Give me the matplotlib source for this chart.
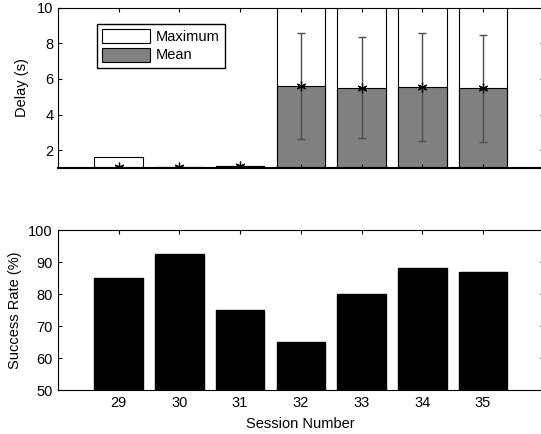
import matplotlib
matplotlib.use("Agg")
import matplotlib.pyplot as plt

plt.rcParams['font.family'] = ['Liberation Sans', 'DejaVu Sans']
plt.rcParams['font.size'] = 10.5

sessions = [29, 30, 31, 32, 33, 34, 35]
delay_max = [1.6, 1.05, 1.1, 12.0, 11.5, 12.5, 11.8]
delay_mean = [1.05, 1.05, 1.1, 5.6, 5.47, 5.53, 5.47]
delay_low = [1.0, 1.0, 1.05, 2.6, 2.66, 2.53, 2.47]
delay_high = [1.1, 1.1, 1.15, 8.6, 8.35, 8.6, 8.46]
success = [85, 92.5, 75, 65, 80, 88, 87]

fig = plt.figure(figsize=(5.41, 4.34), dpi=100)

# top panel: delay
ax1 = fig.add_axes([0.107, 0.613, 0.898, 0.369])
ax1.bar(sessions, delay_max, width=0.8, color='white', edgecolor='black',
        linewidth=0.8, label='Maximum')
ax1.bar(sessions, delay_mean, width=0.8, color='0.5', edgecolor='black',
        linewidth=0.8, label='Mean')
err_lo = [m - l for m, l in zip(delay_mean, delay_low)]
err_hi = [h - m for m, h in zip(delay_mean, delay_high)]
ax1.errorbar(sessions, delay_mean, yerr=[err_lo, err_hi], fmt='none',
             ecolor='0.3', elinewidth=1, capsize=3)
ax1.plot(sessions, delay_mean, linestyle='none', marker=(6, 2, 0),
         color='black', markersize=7, markeredgewidth=0.9)
ax1.set_xlim(28, 36)
ax1.set_ylim(1, 10)
ax1.set_yticks([2, 4, 6, 8, 10])
ax1.set_xticks(sessions)
ax1.set_xticklabels([])
ax1.set_ylabel('Delay (s)', labelpad=6)
ax1.tick_params(direction='in', top=True, right=True, length=3, pad=3)
ax1.spines['bottom'].set_linewidth(1.5)
handles, labels = ax1.get_legend_handles_labels()
ax1.legend(handles[:2], labels[:2], loc='upper left',
           bbox_to_anchor=(0.08, 0.9), borderaxespad=0, fancybox=False,
           edgecolor='black', framealpha=1, handlelength=3.3,
           handleheight=1.1, borderpad=0.35, labelspacing=0.25,
           handletextpad=0.4)

# bottom panel: success rate
ax2 = fig.add_axes([0.107, 0.101, 0.898, 0.369])
ax2.bar(sessions, success, width=0.8, color='black', edgecolor='black')
ax2.set_xlim(28, 36)
ax2.set_ylim(50, 100)
ax2.set_xticks(sessions)
ax2.set_yticks([50, 60, 70, 80, 90, 100])
ax2.set_ylabel('Success Rate (%)')
ax2.set_xlabel('Session Number', labelpad=5)
ax2.tick_params(direction='in', top=True, right=True, length=3, pad=4)

fig.savefig('out.png', dpi=100)
